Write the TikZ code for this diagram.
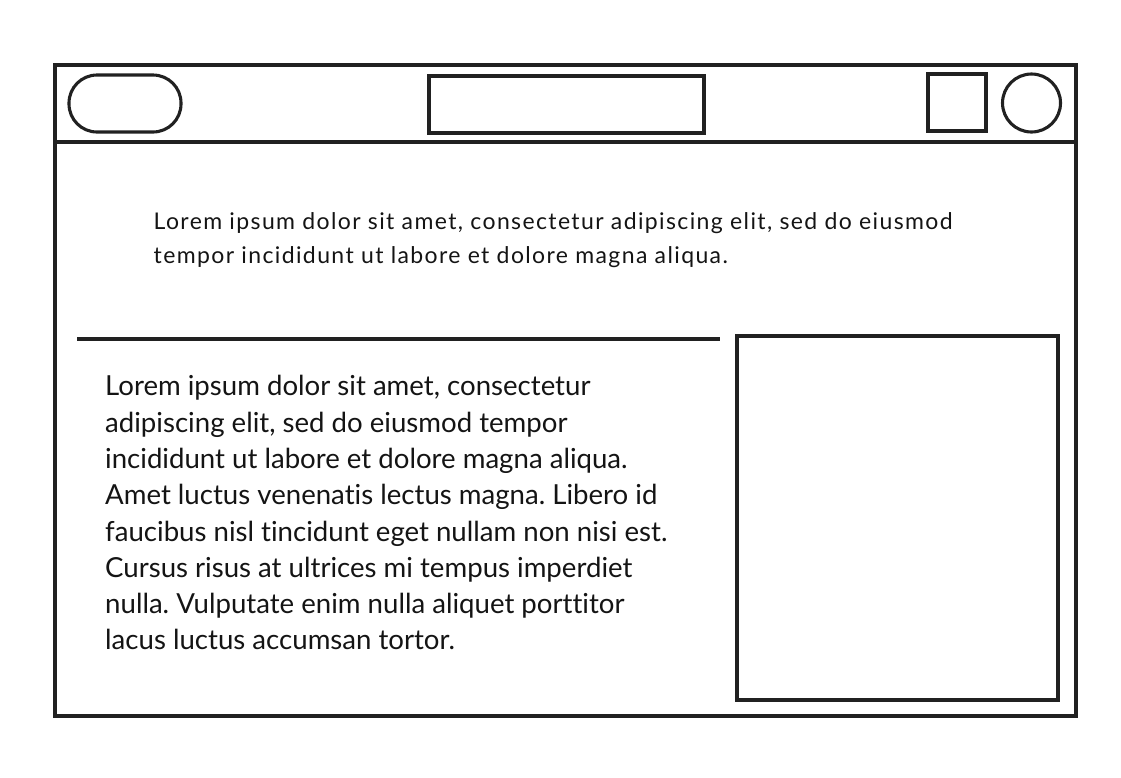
\documentclass[tikz,border=0pt]{standalone}
\usepackage{fontspec}
\setmainfont{Lato}[Ligatures={NoCommon}]
\frenchspacing
\begin{document}
\begin{tikzpicture}[x=1pt,y=-1pt,
  wire/.style={draw=black!87, line width=3.1pt},
  bodytext/.style={inner sep=0pt, anchor=north west, align=left, text=black!92}]
\useasboundingbox (0,0) rectangle (1121,777);
% outer frame and header
\draw[wire] (55,65) rectangle (1076,716);
\draw[wire] (55,142) -- (1076,142);
% header controls
\draw[wire, rounded corners=28pt] (69,75) rectangle (181,132);
\draw[wire] (429,76) rectangle (704,133);
\draw[wire] (928,74) rectangle (986,131);
\draw[wire] (1031.5,103) circle[radius=29];
% body
\draw[wire] (77,339) -- (720,339);
\draw[wire] (737,336) rectangle (1058,700);
\node[bodytext, font={\fontsize{23}{34}\selectfont\addfontfeatures{LetterSpace=6}}] (intro) at (153.5,212.3)
  {Lorem ipsum dolor sit amet, consectetur adipiscing elit, sed do eiusmod\\
   tempor incididunt ut labore et dolore magna aliqua.};
\node[bodytext, font={\fontsize{27.6}{36.3}\selectfont}] (main) at (105,375.3)
  {Lorem ipsum dolor sit amet, consectetur\\
   adipiscing elit, sed do eiusmod tempor\\
   incididunt ut labore et dolore magna aliqua.\\
   Amet luctus venenatis lectus magna. Libero id\\
   faucibus nisl tincidunt eget nullam non nisi est.\\
   Cursus risus at ultrices mi tempus imperdiet\\
   nulla. Vulputate enim nulla aliquet porttitor\\
   lacus luctus accumsan tortor.};
\end{tikzpicture}
\end{document}
